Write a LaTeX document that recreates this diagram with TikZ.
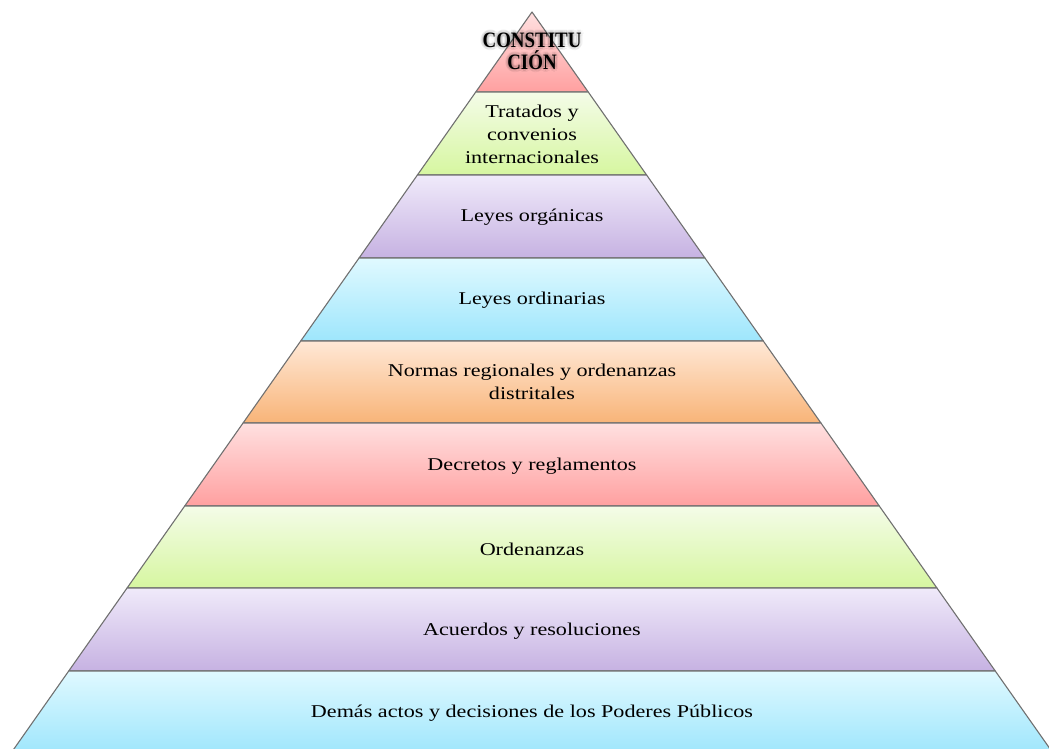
\documentclass[tikz,border=0pt]{standalone}
\usepackage{fontspec}
\setmainfont[FakeStretch=1.23]{Liberation Serif}
\newfontfamily\titlefont[FakeStretch=0.86]{Liberation Serif}

% tier colours: light at the top of each band, stronger at the bottom
\definecolor{edgegray}{RGB}{112,112,112}
\definecolor{redTop}{RGB}{255,224,224}
\definecolor{redBot}{RGB}{255,160,160}
\definecolor{greenTop}{RGB}{244,252,232}
\definecolor{greenBot}{RGB}{214,246,160}
\definecolor{purpleTop}{RGB}{240,234,250}
\definecolor{purpleBot}{RGB}{198,178,226}
\definecolor{blueTop}{RGB}{224,249,255}
\definecolor{blueBot}{RGB}{158,230,252}
\definecolor{orangeTop}{RGB}{255,232,214}
\definecolor{orangeBot}{RGB}{248,180,120}

% apex and slope of the pyramid sides
\def\apx{532}
\def\apy{12}
\def\slope{0.703}

% one band of the pyramid: top y, bottom y, top colour, bottom colour
\newcommand\pyrtier[4]{%
  \pgfmathsetmacro\wa{\slope*(#1-\apy)}%
  \pgfmathsetmacro\wb{\slope*(#2-\apy)}%
  \draw[tierline, top color=#3, bottom color=#4]
    (\apx-\wa,#1) -- (\apx+\wa,#1) -- (\apx+\wb,#2) -- (\apx-\wb,#2) -- cycle;}

\begin{document}
\begin{tikzpicture}[x=1pt,y=-1pt,
  tierline/.style={draw=edgegray, line width=1.1pt, line join=round},
  lbl/.style={align=center, text=black, font=\fontsize{18}{23}\selectfont},
  toplbl/.style={align=center, text=black, font=\titlefont\fontsize{22}{22}\selectfont\bfseries},
  glow/.style={toplbl, text=black, opacity=0.05}]
\useasboundingbox (0,0) rectangle (1049,749);

\pyrtier{12}{92}{redTop}{redBot}
\pyrtier{92}{175}{greenTop}{greenBot}
\pyrtier{175}{258}{purpleTop}{purpleBot}
\pyrtier{258}{341}{blueTop}{blueBot}
\pyrtier{341}{423}{orangeTop}{orangeBot}
\pyrtier{423}{506}{redTop}{redBot}
\pyrtier{506}{588}{greenTop}{greenBot}
\pyrtier{588}{671}{purpleTop}{purpleBot}
\pyrtier{671}{754}{blueTop}{blueBot}

% soft shadow behind the title of the apex
\foreach \dx/\dy in {-3/0,3/0,0/-3,0/3,-2/-2,2/2,-2/2,2/-2,-1.5/0,1.5/0,0/1.5,0/-1.5}
  \node[glow] at (532+\dx,51+\dy) {CONSTITU\\CIÓN};
\node[toplbl] (constitucion) at (532,51) {CONSTITU\\CIÓN};

\node[lbl] (tratados)   at (532,134) {Tratados y\\convenios\\internacionales};
\node[lbl] (organicas)  at (532,217) {Leyes orgánicas};
\node[lbl] (ordinarias) at (532,300) {Leyes ordinarias};
\node[lbl] (normas)     at (532,382) {Normas regionales y ordenanzas\\distritales};
\node[lbl] (decretos)   at (532,466) {Decretos y reglamentos};
\node[lbl] (ordenanzas) at (532,549) {Ordenanzas};
\node[lbl] (acuerdos)   at (532,631) {Acuerdos y resoluciones};
\node[lbl] (demas)      at (532,713) {Demás actos y decisiones de los Poderes Públicos};
\end{tikzpicture}
\end{document}
